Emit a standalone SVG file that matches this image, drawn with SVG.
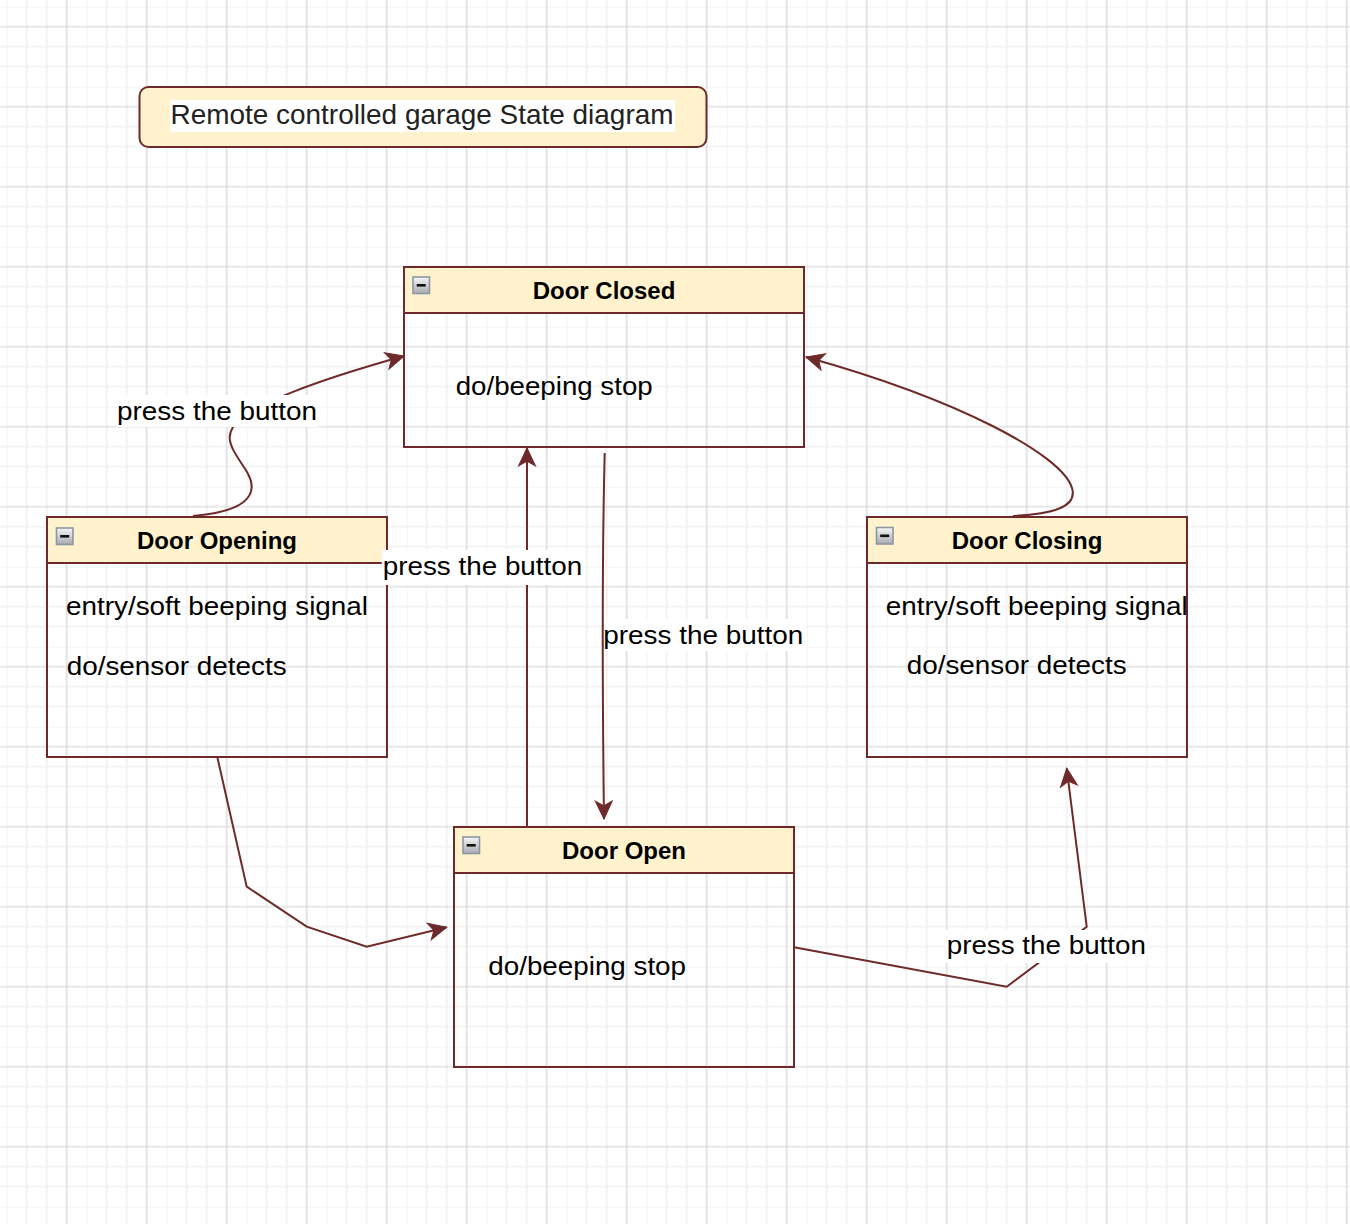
<svg xmlns="http://www.w3.org/2000/svg" width="1350" height="1224" viewBox="0 0 1350 1224">
  <defs>
    <pattern id="grid" x="6.667" y="6.667" width="80" height="80" patternUnits="userSpaceOnUse">
      <path d="M0,0 V80 M20,0 V80 M40,0 V80 M0,0 H80 M0,40 H80 M0,60 H80" stroke="#f1f1f1" stroke-width="1.6" fill="none"/>
      <path d="M60,0 V80 M0,20 H80" stroke="#d2d2d2" stroke-width="1.2" fill="none"/>
    </pattern>
    <linearGradient id="iconGrad" x1="0" y1="0" x2="0" y2="1">
      <stop offset="0" stop-color="#f6f6f6"/>
      <stop offset="1" stop-color="#a8abb2"/>
    </linearGradient>
    <marker id="arrow" markerUnits="userSpaceOnUse" markerWidth="20" markerHeight="20" viewBox="-18 -9 19 18" refX="0" refY="0" orient="auto">
      <path d="M0,0 L-17,-8 L-12.5,0 L-17,8 Z" fill="#6e2a2a" stroke="#6e2a2a" stroke-width="1" stroke-linejoin="miter"/>
    </marker>
    <g id="icon">
      <rect x="0.5" y="0.5" width="16.5" height="16.5" fill="url(#iconGrad)" stroke="#8c97a6" stroke-width="1.6"/>
      <rect x="4.2" y="7.5" width="9" height="2.6" fill="#111"/>
    </g>
  </defs>
  <style>
    .box { fill: none; stroke: #6e2a2a; stroke-width: 2; }
    .hdr { fill: #fff2cc; stroke: #6e2a2a; stroke-width: 2; }
    .edge { fill: none; stroke: #6e2a2a; stroke-width: 2; marker-end: url(#arrow); }
    .title { font-family: "Liberation Sans", Arial, Helvetica, sans-serif; font-weight: bold; font-size: 24px; fill: #000; text-anchor: middle; }
    .body { font-family: "Liberation Sans", Arial, Helvetica, sans-serif; font-size: 26px; fill: #000; }
    .lbl { font-family: "Liberation Sans", Arial, Helvetica, sans-serif; font-size: 26px; fill: #000; }
    .lblbg { fill: #ffffff; }
  </style>

  <rect x="0" y="0" width="1350" height="1224" fill="#ffffff"/>
  <rect x="0" y="0" width="1350" height="1224" fill="url(#grid)"/>

  <g id="title-note">
    <rect x="139.5" y="87" width="567" height="60" rx="9" ry="9" class="hdr"/>
    <rect x="170" y="100" width="505" height="32" fill="#ffffff"/>
    <text x="170.5" y="124" font-family="'Liberation Sans', Arial, Helvetica, sans-serif" font-size="28" fill="#222222" textLength="503" lengthAdjust="spacingAndGlyphs">Remote controlled garage State diagram</text>
  </g>

  <g id="door-closed">
    <rect x="404" y="267" width="400" height="46" class="hdr"/>
    <rect x="404" y="267" width="400" height="180" class="box"/>
    <use href="#icon" x="412.5" y="276.5"/>
    <text x="604" y="299" class="title">Door Closed</text>
    <text x="455.7" y="395" class="body" textLength="197" lengthAdjust="spacingAndGlyphs">do/beeping stop</text>
  </g>

  <g id="door-opening">
    <rect x="47" y="517" width="340" height="46" class="hdr"/>
    <rect x="47" y="517" width="340" height="240" class="box"/>
    <use href="#icon" x="56" y="527.5"/>
    <text x="217" y="549" class="title">Door Opening</text>
    <text x="66" y="615" class="body" textLength="302" lengthAdjust="spacingAndGlyphs">entry/soft beeping signal</text>
    <text x="66.7" y="675" class="body" textLength="220" lengthAdjust="spacingAndGlyphs">do/sensor detects</text>
  </g>

  <g id="door-closing">
    <rect x="867" y="517" width="320" height="46" class="hdr"/>
    <rect x="867" y="517" width="320" height="240" class="box"/>
    <use href="#icon" x="876" y="527"/>
    <text x="1027" y="549" class="title">Door Closing</text>
    <text x="885.7" y="615" class="body" textLength="302" lengthAdjust="spacingAndGlyphs">entry/soft beeping signal</text>
    <text x="906.7" y="674" class="body" textLength="220" lengthAdjust="spacingAndGlyphs">do/sensor detects</text>
  </g>

  <g id="door-open">
    <rect x="454" y="827" width="340" height="46" class="hdr"/>
    <rect x="454" y="827" width="340" height="240" class="box"/>
    <use href="#icon" x="462.5" y="836.5"/>
    <text x="624" y="859" class="title">Door Open</text>
    <text x="488.3" y="975" class="body" textLength="197.7" lengthAdjust="spacingAndGlyphs">do/beeping stop</text>
  </g>

  <g id="connectors">
    <path class="edge" d="M193,516 C240,512 262,498 247,472 C232,448 218,435 245,415 C265,403 300,385 404,356"/>
    <path class="edge" d="M1013,516 C1050,514 1078,508 1072,488 C1062,455 960,400 806,357"/>
    <path class="edge" d="M527,827 L527,448"/>
    <path class="edge" d="M604.7,453 C602,560 602.5,700 604,819"/>
    <path class="edge" d="M217.3,757 L246.7,886.7 L306.7,926.7 L366.7,946.7 L446.7,927.3"/>
    <path class="edge" d="M794,947.3 L1006.7,986.7 L1086.7,926.7 L1066.7,768.3"/>

    <rect x="116" y="395" width="202" height="32" class="lblbg"/>
    <text x="117" y="420" class="lbl" textLength="200" lengthAdjust="spacingAndGlyphs">press the button</text>

    <rect x="381.7" y="550" width="202" height="35" class="lblbg"/>
    <text x="382.7" y="575" class="lbl" textLength="199.6" lengthAdjust="spacingAndGlyphs">press the button</text>

    <rect x="605" y="619" width="200" height="32" class="lblbg"/>
    <text x="603.3" y="644" class="lbl" textLength="200" lengthAdjust="spacingAndGlyphs">press the button</text>

    <rect x="945" y="930" width="202" height="33" class="lblbg"/>
    <text x="946.7" y="954" class="lbl" textLength="199.3" lengthAdjust="spacingAndGlyphs">press the button</text>
  </g>
</svg>
